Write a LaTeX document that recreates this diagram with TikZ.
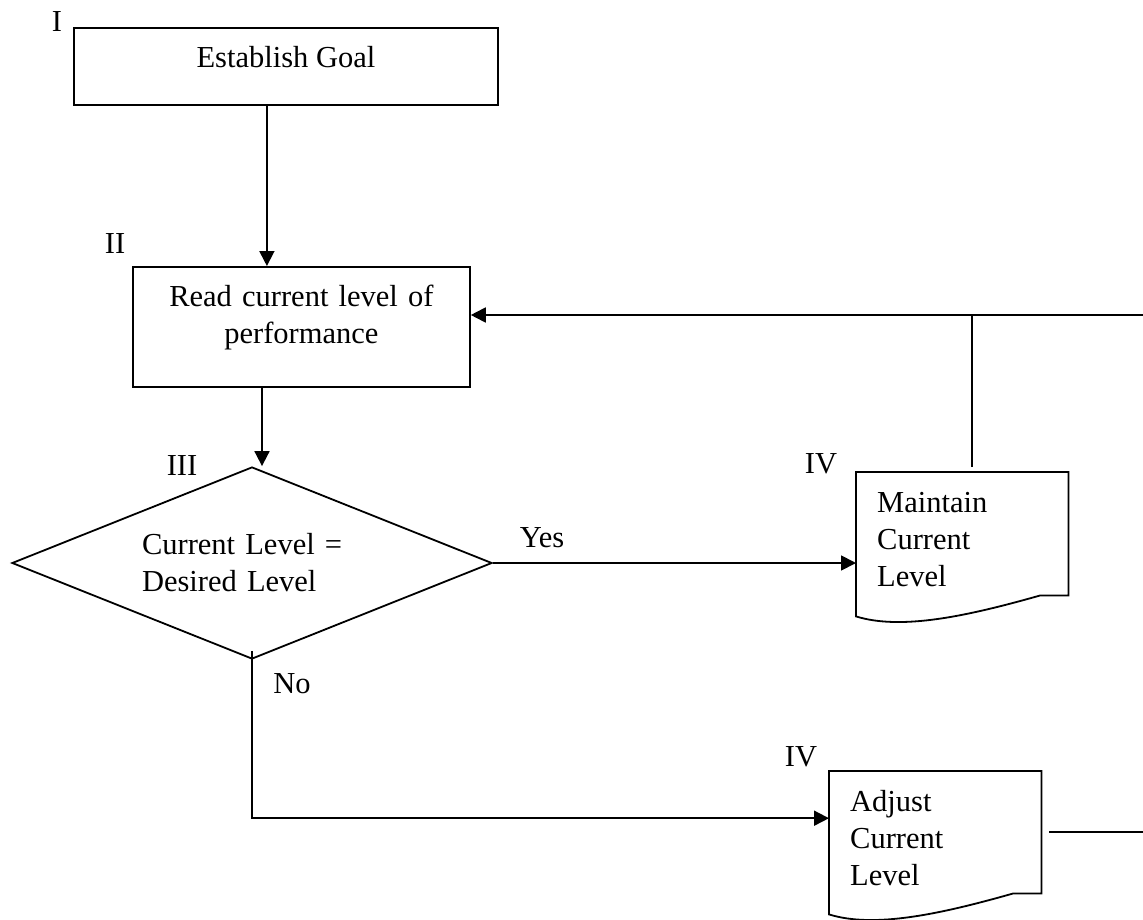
\documentclass[tikz,border=0pt]{standalone}
\usepackage{fontspec}
\setmainfont{Liberation Serif}
\usetikzlibrary{shapes.geometric, arrows.meta, calc}

\begin{document}
\begin{tikzpicture}[
  x=1pt, y=-1pt,
  every node/.style={font=\fontsize{30.5}{37}\selectfont},
  box/.style={draw, line width=1.8pt, anchor=north west, text height=20pt, inner ysep=20pt},
  docbox/.style={anchor=north west, text height=20pt, inner ysep=20pt, inner xsep=21pt,
    text width=170pt, align=left},
  decision/.style={draw, diamond, line width=1.8pt, aspect=2.5, minimum width=480pt,
    minimum height=192pt, text width=220pt, align=left},
  tag/.style={inner sep=0pt},
  arrow/.style={-{Triangle[length=15pt,width=15pt]}, line width=1.8pt},
  link/.style={line width=1.8pt},
]
  \useasboundingbox (0,0) rectangle (1143,920);

  \node (goal)  [box, minimum width=424pt, text depth=17pt] at (73,27) {Establish Goal};
  \node (read)  [box, minimum width=337pt, text width=300pt, align=center, text depth=60pt]
    at (132,266) {Read current level of\\performance};
  \node (dec)   [decision] at (252,563) {Current Level =\\Desired Level};
  \node (maint) [docbox, text depth=63pt] at (856,472) {Maintain\\Current\\Level};
  \node (adj)   [docbox, text depth=62pt] at (829,771) {Adjust\\Current\\Level};

  % document outlines
  \foreach \n in {maint,adj}
    \draw[link] (\n.north west) -- (\n.north east) -- (\n.south east) -- ++(-28,0)
      .. controls +(-74,21) and +(45,14) .. ($(\n.south west)+(0,21)$) -- cycle;

  \node (lblI)   [tag] at (57,22)   {I};
  \node (lblII)  [tag] at (115,244) {II};
  \node (lblIII) [tag] at (182,466) {III};
  \node (lblIVa) [tag] at (821,464) {IV};
  \node (lblIVb) [tag] at (801,757) {IV};
  \node (yes)    [tag] at (542,538) {Yes};
  \node (no)     [tag] at (292,684) {No};

  \coordinate (fb)  at (1143,315);
  \coordinate (out) at (1143,831);

  \draw[arrow] ([xshift=-19pt]goal.south) -- ([xshift=-19pt]goal.south |- read.north);
  \draw[arrow] ([xshift=10pt]dec.north |- read.south) -- ([xshift=10pt]dec.north);
  \draw[arrow] (dec.east) -- (dec.east -| maint.west);
  \draw[arrow] (fb) -- (fb -| read.east);
  \draw[link]  ([xshift=10pt,yshift=5pt]maint.north) -- ([xshift=10pt]maint.north |- fb);
  \draw[arrow] ([yshift=9pt]dec.south) |- ([yshift=14pt]adj.west);
  \draw[link]  ([xshift=8pt]adj.east) -- (adj.east -| out);
\end{tikzpicture}
\end{document}
